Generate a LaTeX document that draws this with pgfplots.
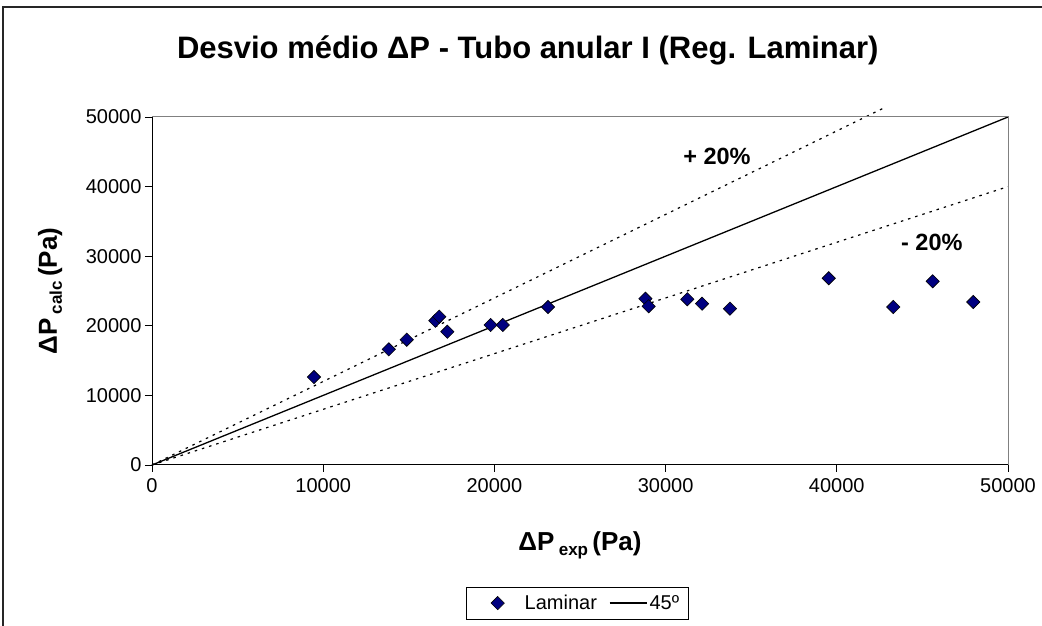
\documentclass[border=0pt]{standalone}
\usepackage{pgfplots}
\pgfplotsset{compat=1.18}
\usepackage{fontspec}
\setmainfont{Liberation Sans}
\definecolor{navyb}{RGB}{0,0,128}
\definecolor{frameg}{RGB}{128,128,128}
\begin{document}
\begin{tikzpicture}
\useasboundingbox (0,0) rectangle (1042pt,626pt);
\fill[white] (0,0) rectangle (1042pt,626pt);
\draw[line width=1.3pt,black!85] (3pt,0pt) -- (3pt,619pt) -- (1042pt,619pt);
\begin{axis}[
  at={(152pt,161pt)}, anchor=south west,
  scale only axis, width=856pt, height=348pt,
  xmin=0, xmax=50000, ymin=0, ymax=50000,
  xtick={0,10000,...,50000}, ytick={0,10000,...,50000},
  scaled ticks=false,
  axis lines=left, axis line style={line width=1pt, -},
  tick align=outside, major tick length=7pt,
  tick style={black, line width=0.8pt},
  /pgf/number format/1000 sep={},
  /pgf/number format/assume math mode=true,
  tick label style={font=\fontsize{20}{24}\selectfont},
  xticklabel style={yshift=-3pt},
  yticklabel style={xshift=0pt},
  clip=false,
  xlabel={\fontsize{26}{30}\selectfont\bfseries ΔP\,{\fontsize{17}{17}\selectfont\raisebox{-5pt}{exp}}\,(Pa)},
  xlabel style={at={(axis description cs:0.5,-0.23)}, anchor=center},
  ylabel={\fontsize{26}{30}\selectfont\bfseries ΔP\,{\fontsize{17}{17}\selectfont\raisebox{-5pt}{calc}}\,(Pa)},
  ylabel style={at={(axis description cs:-0.119,0.5)}, anchor=center, rotate=0},
  legend style={at={(axis description cs:0.497,-0.35)}, anchor=north,
    draw=black, line width=0.6pt, font=\fontsize{20}{24}\selectfont,
    legend columns=2, inner xsep=8pt, inner ysep=6pt,
    nodes={inner xsep=1pt},
    /tikz/every even column/.append style={column sep=11pt}},
]
\addplot[only marks, mark=square*, mark size=4.7pt,
  mark options={rotate=45, fill=navyb, draw=black, line width=0.6pt},
  legend image code/.code={\path[draw=none,fill=none] (-23pt,0pt) -- (26pt,0pt);
    \path[draw=none,fill=none,mark=square*, mark size=4.7pt, mark options={rotate=45, fill=navyb, draw=black, line width=0.6pt}] plot coordinates {(0pt,0pt)};}]
  coordinates {
  (9460,12640) (13830,16620) (14880,18000) (16550,20730) (16780,21310)
  (17250,19150) (19780,20120) (20490,20120) (23130,22700)
  (28820,23890) (29010,22800) (31270,23810) (32130,23180) (33760,22460)
  (39530,26830) (43300,22700) (45600,26390) (47970,23420)
  };
\addlegendentry{Laminar}
\addplot[black, line width=1.3pt, no marks,
  legend image code/.code={\draw[black, line width=1.3pt] (0pt,0pt) -- (37pt,0pt); \path[draw=none] (39pt,0pt);}]
  coordinates {(0,0) (50000,50000)};
\addlegendentry{45º\hspace{7pt}}
\addplot[black, line width=1.2pt, dash pattern=on 2.5pt off 5pt, no marks, forget plot]
  coordinates {(0,0) (10000,12000) (20000,24000) (30000,36000) (42700,51240)};
\addplot[black, line width=1.2pt, dash pattern=on 2.5pt off 5pt, no marks, forget plot]
  coordinates {(0,0) (10000,8000) (20000,16000) (30000,24000) (40000,32000) (50000,40000)};
\draw[frameg, line width=1pt] (rel axis cs:0,1) -- (rel axis cs:1,1) -- (rel axis cs:1,0);
\node[font=\fontsize{23.5}{28}\selectfont\bfseries] at (axis cs:33000,44400) {+ 20\%};
\node[font=\fontsize{23.5}{28}\selectfont\bfseries] at (axis cs:45550,32040) {- 20\%};
\node[font=\fontsize{31}{36}\selectfont\bfseries] at (axis description cs:0.439,1.1925)
  {Desvio médio ΔP - Tubo anular I (Reg. Laminar)};
\end{axis}
\end{tikzpicture}
\end{document}
